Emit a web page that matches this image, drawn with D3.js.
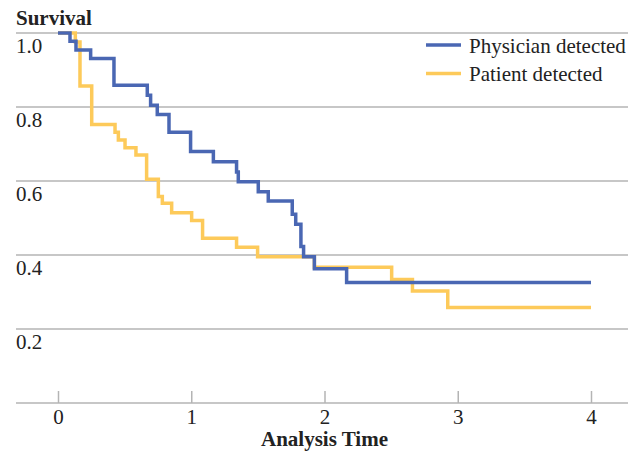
<!DOCTYPE html>
<html>
<head>
<meta charset="utf-8">
<script src="https://cdn.jsdelivr.net/npm/d3@7"></script>
<style>
  html, body { margin: 0; padding: 0; background: #fff; }
  svg { display: block; font-family: "Liberation Serif", "Times New Roman", serif; }
</style>
</head>
<body>
<svg id="chart" width="641" height="454"></svg>
<script>
const seriesNames = ["Physician detected", "Patient detected"];
const seriesColors = ["#4a67b3", "#fdca5a"];
const physicianTimes = [0, 0.09, 0.135, 0.245, 0.42, 0.67, 0.695, 0.745, 0.833, 0.995, 1.166, 1.34, 1.353, 1.503, 1.578, 1.758, 1.784, 1.823, 1.843, 1.924, 2.166, 4];
const physicianSurv  = [1.0, 0.978, 0.954, 0.931, 0.859, 0.832, 0.805, 0.780, 0.732, 0.680, 0.652, 0.624, 0.598, 0.571, 0.546, 0.510, 0.483, 0.423, 0.395, 0.363, 0.326, 0.326];
const patientTimes = [0, 0.13, 0.165, 0.253, 0.428, 0.453, 0.503, 0.585, 0.665, 0.753, 0.783, 0.853, 1.003, 1.085, 1.34, 1.498, 1.924, 2.504, 2.66, 2.925, 4];
const patientSurv  = [1.0, 0.976, 0.857, 0.753, 0.732, 0.711, 0.690, 0.670, 0.605, 0.558, 0.540, 0.514, 0.493, 0.445, 0.421, 0.395, 0.367, 0.334, 0.303, 0.258, 0.258];
const xTicks = [0, 1, 2, 3, 4];
const yTicks = [1.0, 0.8, 0.6, 0.4, 0.2];
const yTickLabels = ["1.0", "0.8", "0.6", "0.4", "0.2"];

const svg = d3.select("#chart");
const x = d3.scaleLinear().domain([0, 4]).range([58, 591]);
const y = d3.scaleLinear().domain([0, 1]).range([403, 33]);
const left = 16, right = 628;
const fs = 21;

// gridlines
svg.append("g").selectAll("line").data(yTicks).join("line")
  .attr("x1", left).attr("x2", right)
  .attr("y1", d => y(d)).attr("y2", d => y(d))
  .attr("stroke", "#b4b4b4").attr("stroke-width", 1.5);

// y tick labels (below gridline)
svg.append("g").selectAll("text").data(yTicks).join("text")
  .attr("x", left).attr("y", d => y(d) + 20)
  .attr("font-size", fs).attr("fill", "#222")
  .text((d, i) => yTickLabels[i]);

// x axis
const xAxis = d3.axisBottom(x).tickValues(xTicks).tickFormat(d3.format("d")).tickSize(12).tickSizeOuter(0);
const gx = svg.append("g").attr("transform", "translate(0,403)").call(xAxis);
gx.select(".domain").remove();
gx.selectAll(".tick line").attr("y1", -12).attr("y2", 0).attr("stroke", "#b4b4b4").attr("stroke-width", 1.5);
gx.selectAll(".tick text").attr("y", 21).attr("dy", 0).attr("font-size", fs).attr("fill", "#222")
  .attr("font-family", "Liberation Serif, serif");
svg.append("line").attr("x1", left).attr("x2", right).attr("y1", 403).attr("y2", 403)
  .attr("stroke", "#b4b4b4").attr("stroke-width", 1.5);

// titles
svg.append("text").attr("x", left).attr("y", 25).attr("font-size", fs).attr("font-weight", "bold")
  .attr("fill", "#222").text("Survival");
svg.append("text").attr("x", (x(0) + x(4)) / 2).attr("y", 446).attr("text-anchor", "middle")
  .attr("font-size", fs).attr("font-weight", "bold").attr("fill", "#222").text("Analysis Time");

// curves
const line = d3.line().x(d => x(d[0])).y(d => y(d[1])).curve(d3.curveStepAfter);
const patient = patientTimes.map((t, i) => [t, patientSurv[i]]);
const physician = physicianTimes.map((t, i) => [t, physicianSurv[i]]);
svg.append("path").attr("d", line(patient)).attr("fill", "none")
  .attr("stroke", seriesColors[1]).attr("stroke-width", 3.5);
svg.append("path").attr("d", line(physician)).attr("fill", "none")
  .attr("stroke", seriesColors[0]).attr("stroke-width", 3.5);

// legend
const leg = svg.append("g");
seriesNames.forEach((name, i) => {
  const ly = 45 + i * 28.5;
  leg.append("line").attr("x1", 426).attr("x2", 461).attr("y1", ly).attr("y2", ly)
    .attr("stroke", seriesColors[i]).attr("stroke-width", 3.5);
  leg.append("text").attr("x", 469).attr("y", ly + 7.5).attr("font-size", fs).attr("fill", "#222").text(name);
});
</script>
</body>
</html>
